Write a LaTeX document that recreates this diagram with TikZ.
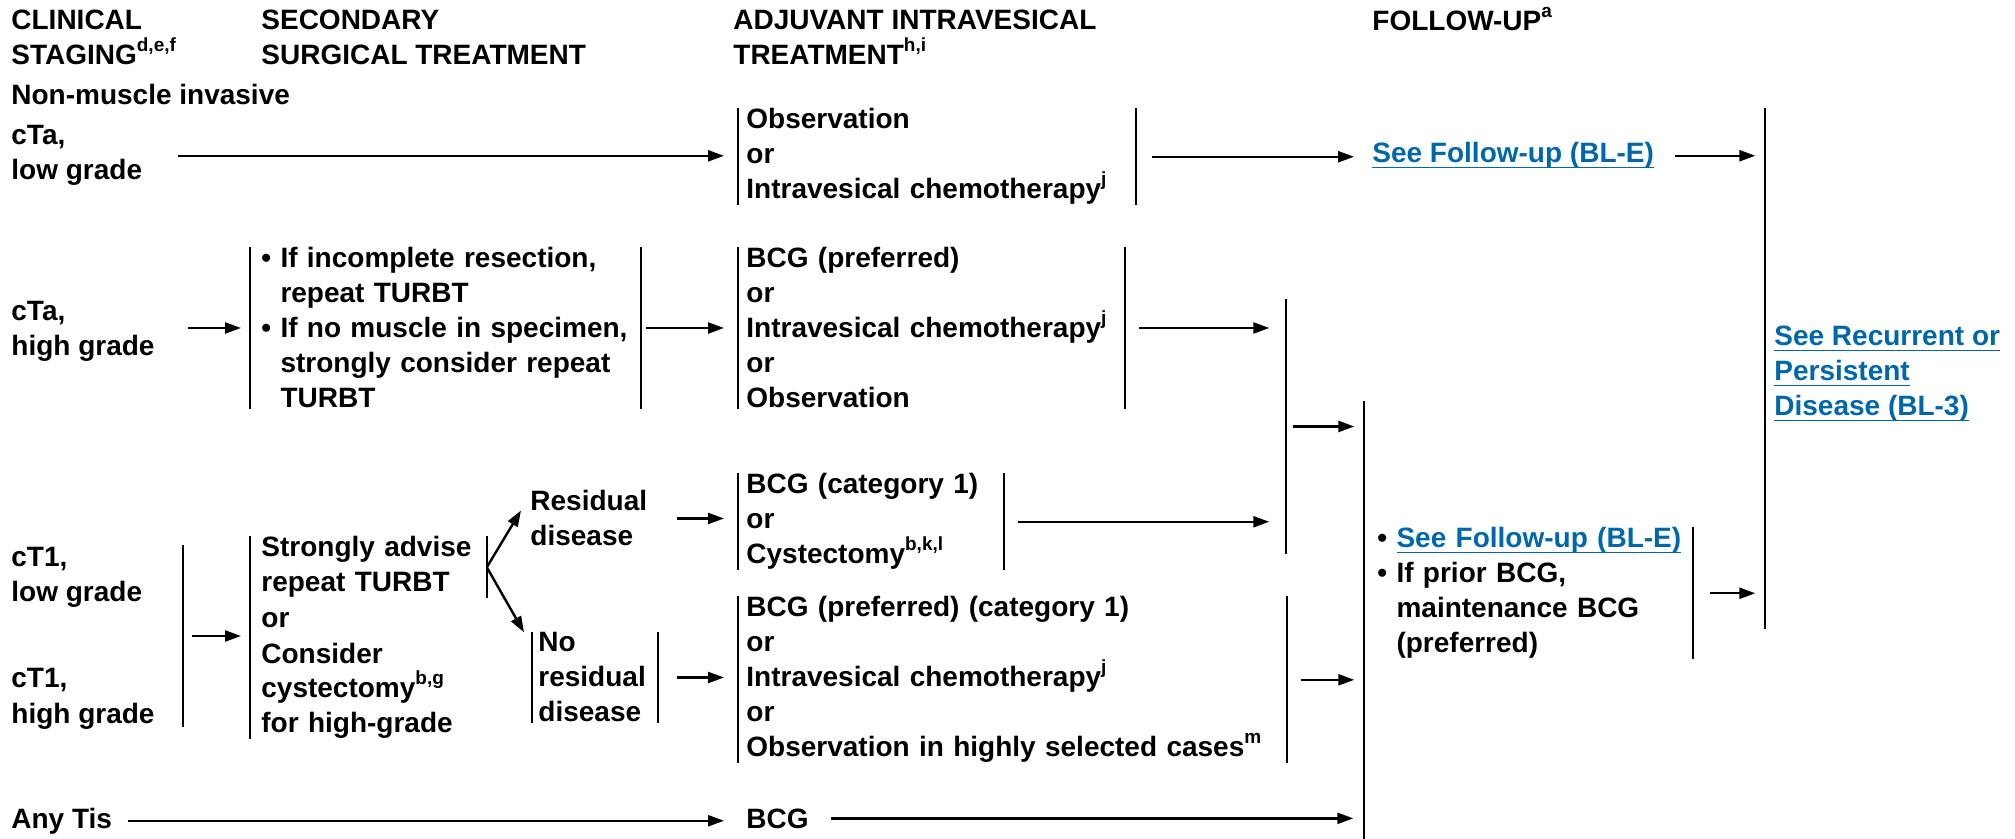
\documentclass[tikz,border=0pt]{standalone}
\usepackage{fontspec}
\setmainfont{Liberation Sans}
\usepackage{tikz}
\usetikzlibrary{arrows.meta}
\definecolor{linkblue}{RGB}{0,104,170}
\newcommand\fnref[1]{\raisebox{0.9ex}{\fontsize{9.5}{10}\selectfont #1}}
\newcommand\ulink[1]{{\color{linkblue}\setbox0\hbox{#1}\rlap{\rule[-2.6pt]{\wd0}{0.8pt}}\box0}}
\tikzstyle{line} = [draw,line width=1.2pt]
\tikzstyle{arr} = [line,-{Triangle[length=8pt,width=5.5pt]},shorten >=7pt,shorten <=7pt]
\tikzstyle{txt} = [anchor=base west,inner sep=0pt,align=left]
\tikzstyle{blk} = [anchor=base west,inner xsep=4pt,inner ysep=0pt,align=left]
\tikzstyle{bar} = [fill,inner sep=0pt,minimum width=1.3pt]
\tikzstyle{brk} = [append after command={(\tikzlastnode.north west) edge[line] (\tikzlastnode.south west) (\tikzlastnode.north east) edge[line] (\tikzlastnode.south east)}]
\tikzstyle{rbrk} = [append after command={(\tikzlastnode.north east) edge[line] (\tikzlastnode.south east)}]
\begin{document}
\begin{tikzpicture}[x=0.5pt,y=-0.5pt,font=\fontsize{14}{17.5}\selectfont\bfseries]
\useasboundingbox (0,0) rectangle (2015,839);
\node[txt] (hclin) at (11,65) {CLINICAL\\STAGING\fnref{d,e,f}};
\node[txt] (hsec) at (261,65) {SECONDARY\\SURGICAL TREATMENT};
\node[txt] (hadj) at (733,65) {ADJUVANT INTRAVESICAL\\TREATMENT\fnref{h,i}};
\node[txt] (hfu) at (1372,31) {FOLLOW-UP\fnref{a}};
\node[txt] (nmi) at (11,105) {Non-muscle invasive};
\node[txt] (ctal) at (11,180) {cTa,\\low grade};
\node[blk,brk,text width=190.5pt] (obs) at (738,129) {Observation\\or\\Intravesical chemotherapy\fnref{j}};
\node[blk,inner xsep=2pt] (fu1) at (1368,163) {\ulink{See Follow-up (BL-E)}};
\node[txt] (ctah) at (11,356) {cTa,\\high grade};
\node[blk,brk,inner xsep=5.5pt,text width=184pt] (surg) at (250,268) {\textbullet\ If incomplete resection,\\\hphantom{\textbullet\ }repeat TURBT\\\textbullet\ If no muscle in specimen,\\\hphantom{\textbullet\ }strongly consider repeat\\\hphantom{\textbullet\ }TURBT};
\node[blk,brk,text width=185pt] (adj2) at (738,268) {BCG (preferred)\\or\\Intravesical chemotherapy\fnref{j}\\or\\Observation};
\node[txt] (ct1l) at (11,602) {cT1,\\low grade};
\node[txt] (ct1h) at (11,723) {cT1,\\high grade};
\node[bar,minimum height=91pt] (t1bar) at (183,636) {};
\node[blk,rbrk,inner xsep=5.5pt,text width=107pt] (adv) at (250,557) {Strongly advise\\repeat TURBT};
\node[blk,inner xsep=5.5pt,text width=107pt] (cons) at (250,628) {or\\Consider\\cystectomy\fnref{b,g}\\for high-grade};
\node[blk,inner xsep=4.5pt] (resid) at (521,546) {Residual\\disease};
\node[blk,brk,inner xsep=3pt,text width=56.5pt] (nores) at (532,652) {No\\residual\\disease};
\node[blk,brk,text width=124.5pt] (adj3) at (738,494) {BCG (category 1)\\or\\Cystectomy\fnref{b,k,l}};
\node[blk,brk,text width=266pt] (adj4) at (738,617) {BCG (preferred) (category 1)\\or\\Intravesical chemotherapy\fnref{j}\\or\\Observation in highly selected cases\fnref{m}};
\node[txt] (anytis) at (11,828) {Any Tis};
\node[blk] (bcg) at (738,828) {BCG};
\node[bar,minimum height=127.5pt] (bar1) at (1286,426.5) {};
\node[bar,minimum height=219pt] (bar2) at (1364,620) {};
\node[bar,minimum height=260.5pt] (bar3) at (1765,368.5) {};
\node[blk,rbrk,text width=153.5pt] (fu2) at (1369,548) {\textbullet\ \ulink{See Follow-up (BL-E)}\\\textbullet\ If prior BCG,\\\hphantom{\textbullet\ }maintenance BCG\\\hphantom{\textbullet\ }(preferred)};
\node[txt] (recur) at (1774,416) {\ulink{See Recurrent or}\\\ulink{Persistent}\\\ulink{Disease (BL-3)}};
\draw[line] (adv.north west) -- (cons.south west);
\draw[arr,shorten <=18pt] (ctal.east) -- (ctal.east -| obs.west);
\draw[arr,shorten <=8pt,shorten >=7pt] (obs.east) -- (obs.east -| fu1.west);
\draw[arr,shorten <=8.5pt,shorten >=4pt] (fu1.east) -- (fu1.east -| bar3.west);
\draw[arr,shorten <=16.5pt,shorten >=4.5pt] (surg.west -| ctah.east) -- (surg.west);
\draw[arr,shorten <=2.5pt] (surg.east) -- (adj2.west);
\draw[arr,shorten >=7.5pt] (adj2.east) -- (adj2.east -| bar1.west);
\draw[arr,shorten <=2.5pt,shorten >=4pt] (bar1.east) -- (bar1.east -| bar2.west);
\draw[arr,shorten <=3.5pt,shorten >=4.5pt] (t1bar.east) -- (t1bar.east -| adv.west);
\draw[arr,shorten <=0pt,shorten >=0pt] (adv.east) -- ([yshift=4pt]resid.west);
\draw[arr,shorten <=0pt,shorten >=0pt] (adv.east) -- ([xshift=-4pt]nores.north west);
\draw[arr,shorten <=9.5pt] (nores.east |- resid.east) -- (adj3.west |- resid.east);
\draw[arr,shorten <=9.5pt] (nores.east) -- (nores.east -| adj4.west);
\draw[arr,shorten >=7.5pt] (adj3.east) -- (adj3.east -| bar1.west);
\draw[arr,shorten >=4pt] (adj4.east) -- (adj4.east -| bar2.west);
\draw[arr,shorten <=8pt] (anytis.east) -- (anytis.east -| bcg.west);
\draw[arr,shorten >=4.5pt] (bcg.east) -- (bcg.east -| bar2.west);
\draw[arr,shorten <=8.5pt,shorten >=4pt] (fu2.east) -- (fu2.east -| bar3.west);
\end{tikzpicture}
\end{document}
